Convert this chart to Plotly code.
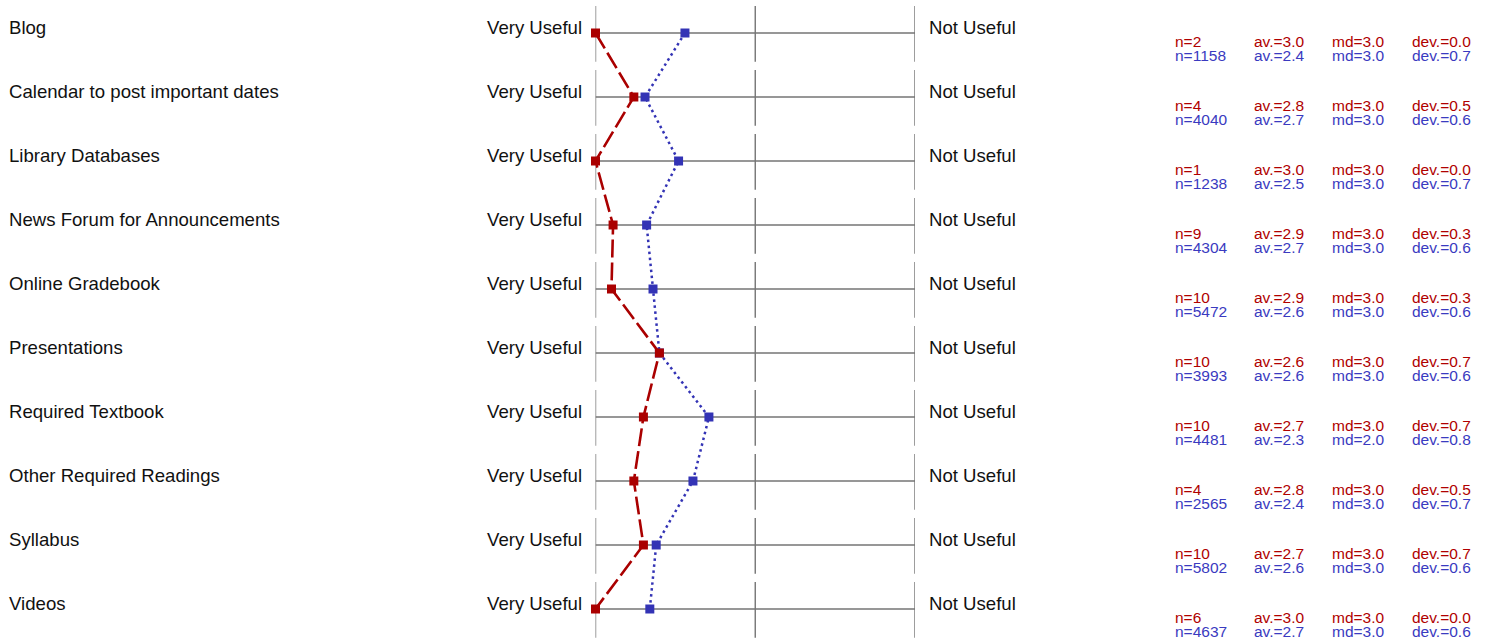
import plotly.graph_objects as go

W, H = 1491, 642

categories = ["Blog", "Calendar to post important dates", "Library Databases",
              "News Forum for Announcements", "Online Gradebook", "Presentations",
              "Required Textbook", "Other Required Readings", "Syllabus", "Videos"]

left_label = "Very Useful"
right_label = "Not Useful"

# group 1 (red) and group 2 (blue)
red_mean = [3.0, 2.76, 3.0, 2.89, 2.9, 2.6, 2.7, 2.76, 2.7, 3.0]
red_n = [2, 4, 1, 9, 10, 10, 10, 4, 10, 6]
red_md = [3.0, 3.0, 3.0, 3.0, 3.0, 3.0, 3.0, 3.0, 3.0, 3.0]
red_dev = [0.0, 0.5, 0.0, 0.3, 0.3, 0.7, 0.7, 0.5, 0.7, 0.0]

blue_mean = [2.44, 2.69, 2.48, 2.68, 2.64, 2.6, 2.29, 2.39, 2.62, 2.66]
blue_n = [1158, 4040, 1238, 4304, 5472, 3993, 4481, 2565, 5802, 4637]
blue_md = [3.0, 3.0, 3.0, 3.0, 3.0, 3.0, 2.0, 3.0, 3.0, 3.0]
blue_dev = [0.7, 0.6, 0.7, 0.6, 0.6, 0.6, 0.8, 0.7, 0.6, 0.6]

scale_ticks = [3, 2, 1]

RED = "#aa0000"
BLUE = "#3333b5"
RED_T = "#b00000"
BLUE_T = "#3a3ac0"
GRAY = "#747474"
FONT = "Liberation Sans, Arial, sans-serif"

rows = list(range(len(categories)))

fig = go.Figure()
fig.add_trace(go.Scatter(
    x=blue_mean, y=rows, mode="lines+markers", cliponaxis=False,
    line=dict(color=BLUE, width=2.5, dash="2.5px,3.5px"),
    marker=dict(symbol="square", size=9, color=BLUE),
    hoverinfo="skip", showlegend=False))
fig.add_trace(go.Scatter(
    x=red_mean, y=rows, mode="lines+markers", cliponaxis=False,
    line=dict(color=RED, width=2.6, dash="18px,5px"),
    marker=dict(symbol="square", size=9, color=RED),
    hoverinfo="skip", showlegend=False))

shapes = []
annotations = []
cols = [1174, 1253, 1331, 1411]
for i, cat in enumerate(categories):
    shapes.append(dict(type="line", xref="x", yref="y", x0=scale_ticks[0], x1=scale_ticks[-1],
                       y0=i, y1=i, line=dict(color=GRAY, width=1.4), layer="below"))
    for t in scale_ticks:
        shapes.append(dict(type="line", xref="x", yref="y", x0=t, x1=t,
                           y0=i - 0.42, y1=i + 0.45, line=dict(color=GRAY, width=1.4),
                           layer="below"))
    annotations.append(dict(text=cat, xref="paper", yref="y", x=7 / W, y=i,
                            xanchor="left", yanchor="middle", yshift=6, showarrow=False,
                            font=dict(size=18.6, color="#111111", family=FONT)))
    annotations.append(dict(text=left_label, xref="x", yref="y", x=scale_ticks[0], y=i,
                            xanchor="right", yanchor="middle", xshift=-12, yshift=6,
                            showarrow=False, font=dict(size=18.6, color="#111111", family=FONT)))
    annotations.append(dict(text=right_label, xref="x", yref="y", x=scale_ticks[-1], y=i,
                            xanchor="left", yanchor="middle", xshift=12, yshift=6,
                            showarrow=False, font=dict(size=18.6, color="#111111", family=FONT)))
    red_txt = [f"n={red_n[i]}", f"av.={red_mean[i]:.1f}", f"md={red_md[i]:.1f}", f"dev.={red_dev[i]:.1f}"]
    blue_txt = [f"n={blue_n[i]}", f"av.={blue_mean[i]:.1f}", f"md={blue_md[i]:.1f}", f"dev.={blue_dev[i]:.1f}"]
    for cx, rt, bt in zip(cols, red_txt, blue_txt):
        annotations.append(dict(text=rt, xref="paper", yref="y", x=cx / W, y=i,
                                xanchor="left", yanchor="middle", yshift=-8, showarrow=False,
                                borderpad=0, font=dict(size=15.5, color=RED_T, family=FONT)))
        annotations.append(dict(text=bt, xref="paper", yref="y", x=cx / W, y=i,
                                xanchor="left", yanchor="middle", yshift=-22.5, showarrow=False,
                                borderpad=0, font=dict(size=15.5, color=BLUE_T, family=FONT)))

r0 = -33 / 64
r1 = r0 + H / 64
fig.update_layout(
    width=W, height=H, margin=dict(l=0, r=0, t=0, b=0),
    paper_bgcolor="white", plot_bgcolor="white",
    xaxis=dict(domain=[595.5 / W, 915 / W], range=[3, 1], visible=False, fixedrange=True),
    yaxis=dict(domain=[0, 1], range=[r1, r0], visible=False, fixedrange=True),
    shapes=shapes, annotations=annotations, showlegend=False,
)

fig.write_html("out.html", post_script="document.body.style.margin='0';",
               config={"displayModeBar": False})
